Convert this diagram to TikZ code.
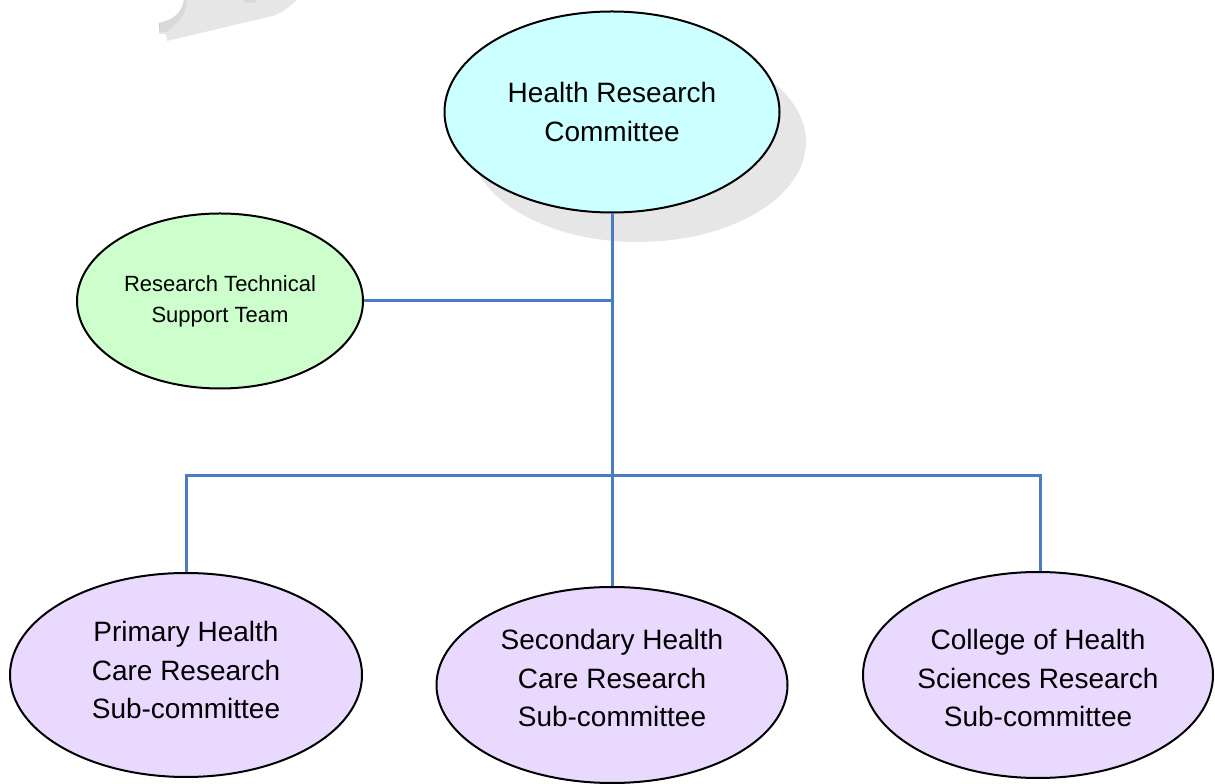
\documentclass[tikz,border=0pt]{standalone}
\usepackage{fontspec}
\setmainfont{Liberation Sans}
\usetikzlibrary{shapes.geometric}
\definecolor{linkblue}{HTML}{4A7CC5}
\definecolor{shadowgray}{HTML}{E6E6E6}
\definecolor{hatchgray}{HTML}{D9D9D9}
\definecolor{cyanfill}{HTML}{CCFFFF}
\definecolor{greenfill}{HTML}{CCFFCC}
\definecolor{lilacfill}{HTML}{E9D9FF}
\begin{document}
\begin{tikzpicture}[x=1pt,y=1pt,
  unit/.style={ellipse, draw=black, line width=2pt, inner sep=0pt, align=center},
  bigtext/.style={font=\fontsize{28}{39}\selectfont},
  smalltext/.style={font=\fontsize{22}{31}\selectfont},
  subtext/.style={align=center, font=\fontsize{28}{38.5}\selectfont},
  link/.style={draw=linkblue, line width=3pt}]
\useasboundingbox (0,0) rectangle (1215,784);

% clipped fragment of a grey shape along the top edge
\fill[shadowgray] (184,784) -- (297,784)
  .. controls (286,774) and (279,769) .. (268,767) -- (167,743)
  -- (166,750) -- (160,750) -- (159,761)
  .. controls (172,764) and (182,770) .. (184,784) -- cycle;
\fill[hatchgray] (159,761) .. controls (172,764) and (182,770) .. (184,784)
  -- (187,784) .. controls (186,772) and (182,766) .. (176,760)
  -- (166,752) -- (160,752) -- cycle;
\draw[gray!55, line width=0.4pt] (159,761) -- (160,750);
\fill[hatchgray] (243,784) arc[start angle=180, end angle=360, x radius=7, y radius=3];

% drop shadow of the committee ellipse
\fill[shadowgray] (638,642) ellipse[x radius=168, y radius=100];

% units
\node[unit, fill=cyanfill, minimum width=335, minimum height=201, bigtext]
  (hrc) at (612,672) {Health Research\\Committee};
\node[unit, fill=greenfill, minimum width=286, minimum height=175, smalltext]
  (rtst) at (220,483) {Research Technical\\Support Team};
\node[unit, fill=lilacfill, minimum width=352, minimum height=204,
  label={[name=phctext, subtext, yshift=5]center:{Primary Health\\Care Research\\Sub-committee}}]
  (phc) at (186,109) {};
\node[unit, fill=lilacfill, minimum width=351, minimum height=196,
  label={[name=shctext, subtext, yshift=7]center:{Secondary Health\\Care Research\\Sub-committee}}]
  (shc) at (612,99) {};
\node[unit, fill=lilacfill, minimum width=350, minimum height=206,
  label={[name=chstext, subtext, yshift=-3]center:{College of Health\\Sciences Research\\Sub-committee}}]
  (chs) at (1038,109) {};

% connectors
\coordinate (bus) at (612,308.5);
\coordinate (busL) at (186,308.5);
\coordinate (busR) at (1040,308.5);
\draw[link] (hrc.south) -- (bus);
\draw[link] (rtst.east) -- (rtst.east -| hrc.south);
\draw[link, line cap=rect] (busL) -- (busR);
\draw[link] (busL) -- (phc.north);
\draw[link] (bus) -- (shc.north);
\draw[link] (busR) -- (busR |- chs.north);
\end{tikzpicture}
\end{document}
